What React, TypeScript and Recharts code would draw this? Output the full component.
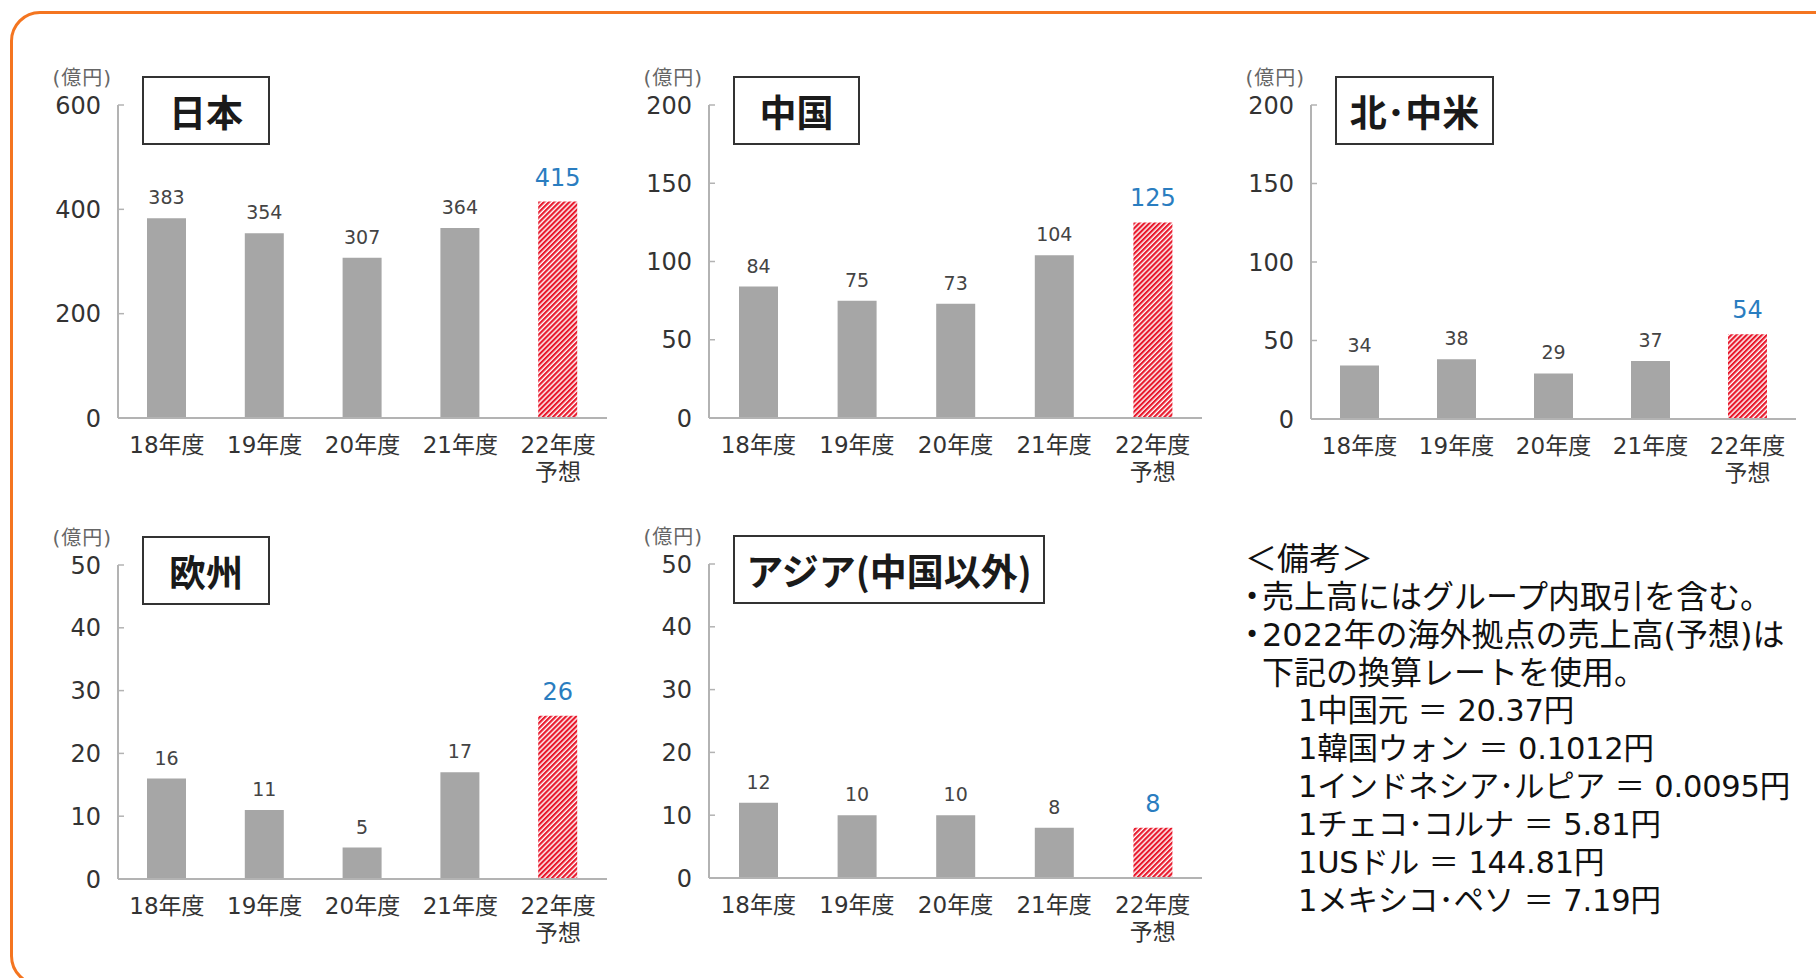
import React from "react";
import { BarChart, Bar, XAxis, YAxis, Cell, LabelList } from "recharts";

const categories = ["18年度", "19年度", "20年度", "21年度", "22年度\n予想"];

const japanSales = [383, 354, 307, 364, 415];
const chinaSales = [84, 75, 73, 104, 125];
const northAmericaSales = [34, 38, 29, 37, 54];
const europeSales = [16, 11, 5, 17, 26];
const asiaSales = [12, 10, 10, 8, 8];

const ticks600 = [0, 200, 400, 600];
const ticks200 = [0, 50, 100, 150, 200];
const ticks50 = [0, 10, 20, 30, 40, 50];

const rateLines = [
  "1中国元 ＝ 20.37円",
  "1韓国ウォン ＝ 0.1012円",
  "1インドネシア･ルピア ＝ 0.0095円",
  "1チェコ･コルナ ＝ 5.81円",
  "1USドル ＝ 144.81円",
  "1メキシコ･ペソ ＝ 7.19円",
];

const FONT = '"DejaVu Sans", "Noto Sans CJK JP", sans-serif';
const FRAME = "#b3b3b3";
const GRAY = "#a6a6a6";
const RED = "#e8192c";
const BLUE = "#2a7dc0";
const Y_MARGIN = 17;

const panels = [
  { id: "jp", title: "日本", values: japanSales, ticks: ticks600, left: 118, top: 105, w: 489, h: 313, boxW: 128 },
  { id: "cn", title: "中国", values: chinaSales, ticks: ticks200, left: 709, top: 105, w: 493, h: 313, boxW: 127 },
  { id: "na", title: "北･中米", values: northAmericaSales, ticks: ticks200, left: 1311, top: 105, w: 485, h: 314, boxW: 159 },
  { id: "eu", title: "欧州", values: europeSales, ticks: ticks50, left: 118, top: 565, w: 489, h: 314, boxW: 128 },
  { id: "as", title: "アジア(中国以外)", values: asiaSales, ticks: ticks50, left: 709, top: 564, w: 493, h: 314, boxW: 312 },
];

const YTick = (props: any) => {
  const { x, y, payload } = props;
  const ax = x + Y_MARGIN;
  return (
    <g>
      <line x1={ax} x2={ax + 6} y1={y} y2={y} stroke={FRAME} strokeWidth={1.5} />
      <text x={x} y={y} dy="0.36em" textAnchor="end" fontSize={24} fill="#333" fontFamily={FONT}>
        {payload.value}
      </text>
    </g>
  );
};

const XTick = (props: any) => {
  const { x, y, payload } = props;
  const lines = String(payload.value).split("\n");
  return (
    <text x={x} y={y} textAnchor="middle" fontSize={23} fill="#333" fontFamily={FONT}>
      {lines.map((l, i) => (
        <tspan key={i} x={x} dy={i === 0 ? 25 : 27}>
          {l}
        </tspan>
      ))}
    </text>
  );
};

const makeLabel = (last: number) => (props: any) => {
  const { x, y, width, value, index } = props;
  const forecast = index === last;
  return (
    <text
      x={x + width / 2}
      y={y - (forecast ? 16 : 14)}
      textAnchor="middle"
      fontSize={forecast ? 24 : 19}
      fontWeight={forecast ? 500 : 400}
      fill={forecast ? BLUE : "#444"}
      fontFamily={FONT}
    >
      {value}
    </text>
  );
};

function Panel({ p }: { p: (typeof panels)[number] }) {
  const rows = categories.map((c, i) => ({ year: c, value: p.values[i] }));
  const max = p.ticks[p.ticks.length - 1];
  const last = rows.length - 1;
  const patId = `hatch-${p.id}`;

  return (
    <>
      <div style={{ position: "absolute", left: p.left - 70, top: p.top - 50 }}>
        <BarChart
          width={p.w + 80}
          height={p.h + 130}
          data={rows}
          margin={{ top: 50, right: 10, bottom: 0, left: 0 }}
        >
          <defs>
            <pattern id={patId} width={3.6} height={3.6} patternUnits="userSpaceOnUse" patternTransform="rotate(45)">
              <rect width={3.6} height={3.6} fill="#fff" />
              <rect width={2.2} height={3.6} fill={RED} />
            </pattern>
          </defs>
          <XAxis
            dataKey="year"
            interval={0}
            height={80}
            tickSize={0}
            tickMargin={10}
            tickLine={false}
            axisLine={{ stroke: FRAME, strokeWidth: 2 }}
            tick={<XTick />}
          />
          <XAxis
            xAxisId="top"
            orientation="top"
            dataKey="year"
            height={0}
            tick={false}
            tickLine={false}
            axisLine={{ stroke: FRAME, strokeWidth: 2 }}
          />
          <YAxis
            type="number"
            domain={[0, max]}
            ticks={p.ticks}
            interval={0}
            width={70}
            tickSize={0}
            tickMargin={Y_MARGIN}
            tickLine={false}
            axisLine={{ stroke: FRAME, strokeWidth: 2 }}
            tick={<YTick />}
          />
          <YAxis
            yAxisId="right"
            orientation="right"
            type="number"
            domain={[0, max]}
            width={0}
            tick={false}
            tickLine={false}
            axisLine={{ stroke: FRAME, strokeWidth: 2 }}
          />
          <Bar dataKey="value" barSize={39} isAnimationActive={false}>
            {rows.map((_, i) => (
              <Cell key={i} fill={i === last ? `url(#${patId})` : GRAY} />
            ))}
            <LabelList dataKey="value" content={makeLabel(last)} />
          </Bar>
        </BarChart>
      </div>
      <div
        style={{
          position: "absolute",
          left: p.left - 84,
          top: p.top - 40,
          width: 78,
          textAlign: "right",
          fontSize: 20,
          letterSpacing: 1,
          lineHeight: "26px",
          color: "#666",
          fontFamily: FONT,
        }}
      >
        (億円)
      </div>
      <div
        style={{
          position: "absolute",
          left: p.left + 24,
          top: p.top - 29,
          width: p.boxW,
          height: 69,
          boxSizing: "border-box",
          border: "2px solid #333",
          background: "#fff",
          display: "flex",
          alignItems: "center",
          justifyContent: "center",
          fontSize: 37,
          fontWeight: 700,
          color: "#1a1a1a",
          fontFamily: '"Noto Sans CJK JP", sans-serif',
          whiteSpace: "nowrap",
        }}
      >
        {p.title}
      </div>
    </>
  );
}

export default function App() {
  return (
    <div
      style={{
        position: "fixed",
        left: 0,
        top: 0,
        width: 1816,
        height: 978,
        background: "#fff",
        overflow: "hidden",
        fontFamily: FONT,
      }}
    >
      <div
        style={{
          position: "absolute",
          left: 10,
          top: 11,
          width: 1850,
          height: 975,
          boxSizing: "border-box",
          border: "3px solid #f47520",
          borderRadius: 30,
        }}
      />
      {panels.map((p) => (
        <Panel key={p.id} p={p} />
      ))}
      <div
        style={{
          position: "absolute",
          left: 1245,
          top: 540,
          fontSize: 32,
          lineHeight: "38px",
          color: "#111",
          fontFamily: FONT,
          whiteSpace: "nowrap",
        }}
      >
        <div>＜備考＞</div>
        <div style={{ display: "flex" }}>
          <span style={{ width: 17, fontSize: 24 }}>•</span>
          <span>売上高にはグループ内取引を含む。</span>
        </div>
        <div style={{ display: "flex" }}>
          <span style={{ width: 17, fontSize: 24 }}>•</span>
          <span>
            2022年の海外拠点の売上高(予想)は
            <br />
            下記の換算レートを使用。
          </span>
        </div>
        {rateLines.map((r) => (
          <div key={r} style={{ paddingLeft: 53, fontSize: 30.5, letterSpacing: -0.2 }}>
            {r}
          </div>
        ))}
      </div>
    </div>
  );
}
